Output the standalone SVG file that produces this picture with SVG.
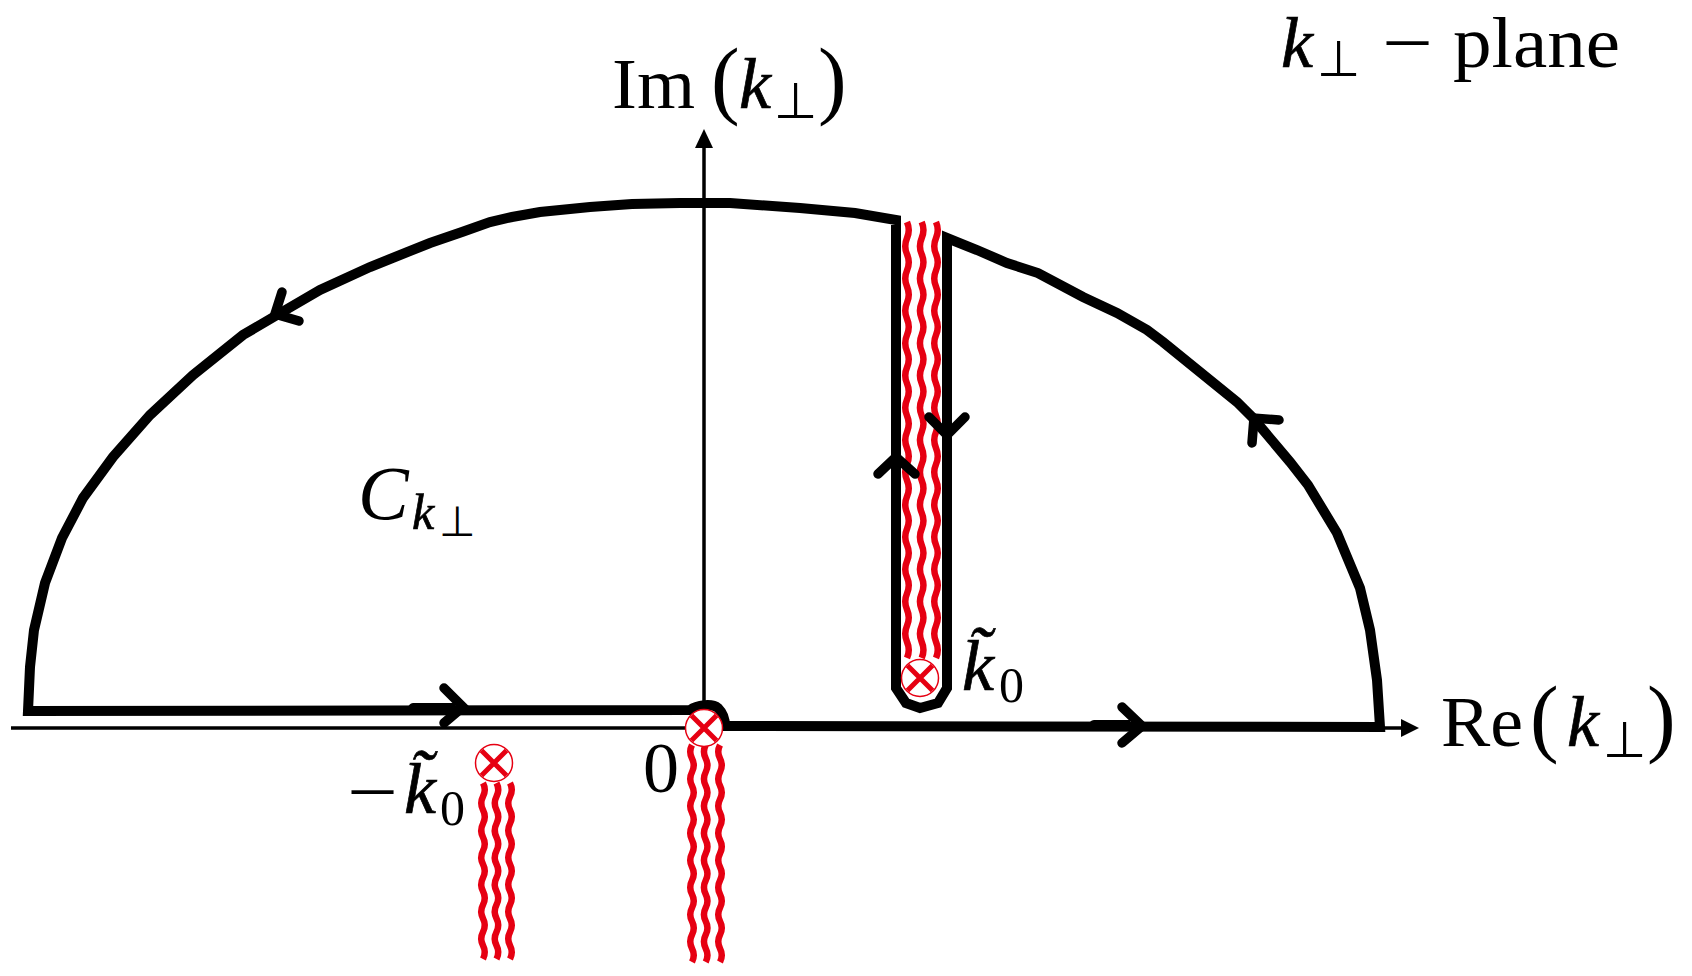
<svg xmlns="http://www.w3.org/2000/svg" width="1692" height="976" viewBox="0 0 1692 976">
<style>
.t{font-family:"Liberation Serif",serif;font-size:72px;fill:#000}
.i{font-style:italic}
.k{stroke:#000;stroke-width:.7}
.s{font-size:50px}
.pe{font-family:"DejaVu Sans",sans-serif;font-size:50px;fill:#000}
.pa{font-size:86px}
.c{fill:none;stroke:#000;stroke-width:10}
.h{fill:none;stroke:#000;stroke-width:9.5;stroke-linecap:round;stroke-linejoin:miter}
.w{fill:none;stroke:#e60012;stroke-width:6.5}
.o{fill:#fff;stroke:#e60012;stroke-width:1.5}
.x{fill:none;stroke:#e60012;stroke-width:5}
</style>
<defs>
<path id="w1" d="M0 222q3.5 8.07 0 16.15t0 16.15t0 16.15t0 16.15t0 16.15t0 16.15t0 16.15t0 16.15t0 16.15t0 16.15t0 16.15t0 16.15t0 16.15t0 16.15t0 16.15t0 16.15t0 16.15t0 16.15t0 16.15t0 16.15t0 16.15t0 16.15t0 16.15t0 16.15t0 16.15t0 16.15t0 16.15"/>
<path id="w2" d="M0 745q-3.5 6.78 0 13.56t0 13.56t0 13.56t0 13.56t0 13.56t0 13.56t0 13.56t0 13.56t0 13.56t0 13.56t0 13.56t0 13.56t0 13.56t0 13.56t0 13.56t0 13.56"/>
<path id="w3" d="M0 783q3.5 6.77 0 13.54t0 13.54t0 13.54t0 13.54t0 13.54t0 13.54t0 13.54t0 13.54t0 13.54t0 13.54t0 13.54t0 13.54t0 13.54"/>
<g id="cross"><circle class="o" r="18.5"/><path class="x" d="M-12.5 -12.5L12.5 12.5M12.5 -12.5L-12.5 12.5"/></g>
</defs>
<rect width="1692" height="976" fill="#fff"/>
<g id="connectors">
<g id="axes">
<path d="M11 728H1403" fill="none" stroke="#000" stroke-width="3.5"/>
<path d="M704 728V146" fill="none" stroke="#000" stroke-width="3.5"/>
<path d="M1401 719L1419 728L1401 737Z"/>
<path d="M695 148L704 129L713 148Z"/>
</g>
<g id="branch-cuts">
<use href="#w1" x="907" class="w"/><use href="#w1" x="921.7" class="w"/><use href="#w1" x="936" class="w"/>
<use href="#w2" x="692" class="w"/><use href="#w2" x="705.7" class="w"/><use href="#w2" x="720" class="w"/>
<use href="#w3" x="483" class="w"/><use href="#w3" x="496.5" class="w"/><use href="#w3" x="510" class="w"/>
</g>
<path id="contour" class="c" d="M896 688V220L855 213L800 208L730 203L680 203L632 204L590 207L540 212L512 217L490 222L462 232L430 243L370 267L320 290L277 315L243 335L193 375L150 415L113 457L83 498L62 538L45 583L34 630L30 667L28 711L690 710C697 705 712 703 718 708C723 713 725 720 725 726L1380 727L1377 680L1370 630L1360 588L1337 533L1308 485L1290 462L1253 418L1237 402L1163 342L1147 330L1117 313L1083 297L1038 273L1007 263L977 250L947 238V688L938 703L920 708L906 703L896 688Z"/>
<g id="arrows">
<path class="h" d="M282 292L275 314L299 321"/>
<path d="M277 315L317 288L322 292L283 317Z"/>
<path class="h" d="M1279 420L1254 418L1252 443"/>
<path class="h" d="M929 417L947 435L965 417"/>
<path class="h" d="M878 474L896 457L915 474"/>
<path class="h" d="M444 688L463 707L444 723"/>
<path d="M408 707C410 703 412 703 415 703H455V712H408Z"/>
<path class="h" d="M1122 707L1142 726L1122 743"/>
<path d="M1088 725C1090 721 1092 720 1095 720H1130V730H1088Z"/>
</g>
</g>
<g id="pole-k0"><use href="#cross" x="920" y="678"/></g>
<g id="pole-0"><use href="#cross" x="704" y="728"/></g>
<g id="pole-minus-k0"><use href="#cross" x="494" y="763"/></g>
<g id="label-plane">
<text class="t i k" x="1281" y="67">k</text><text class="pe" x="1317" y="76">⊥</text>
<text class="t" x="1382" y="67" textLength="51" lengthAdjust="spacingAndGlyphs">−</text>
<text class="t" x="1453" y="67" textLength="167" lengthAdjust="spacingAndGlyphs">plane</text>
</g>
<g id="label-im">
<text class="t" x="612" y="108" textLength="83" lengthAdjust="spacingAndGlyphs">Im</text>
<text class="t pa" x="711" y="108">(</text>
<text class="t i k" x="739" y="108">k</text><text class="pe" x="774" y="118">⊥</text>
<text class="t pa" x="818" y="108">)</text>
</g>
<g id="label-re">
<text class="t" x="1441" y="746" textLength="82" lengthAdjust="spacingAndGlyphs">Re</text>
<text class="t pa" x="1530" y="746">(</text>
<text class="t i k" x="1567" y="746">k</text><text class="pe" x="1603" y="757">⊥</text>
<text class="t pa" x="1647" y="746">)</text>
</g>
<g id="label-c">
<text class="t i" x="358" y="519" style="font-size:76px">C</text>
<text class="t i k s" x="412" y="529">k</text>
<text class="pe" x="439" y="536" style="font-size:42px">⊥</text>
</g>
<g id="label-k0">
<text class="t i k" x="962" y="690">k̃</text><text class="t s" x="999" y="702">0</text>
</g>
<g id="label-minus-k0">
<text class="t" x="347" y="816" textLength="51" lengthAdjust="spacingAndGlyphs">−</text>
<text class="t i k" x="404" y="813">k̃</text><text class="t s" x="440" y="825">0</text>
</g>
<g id="label-0"><text class="t" x="643" y="792">0</text></g>
</svg>
